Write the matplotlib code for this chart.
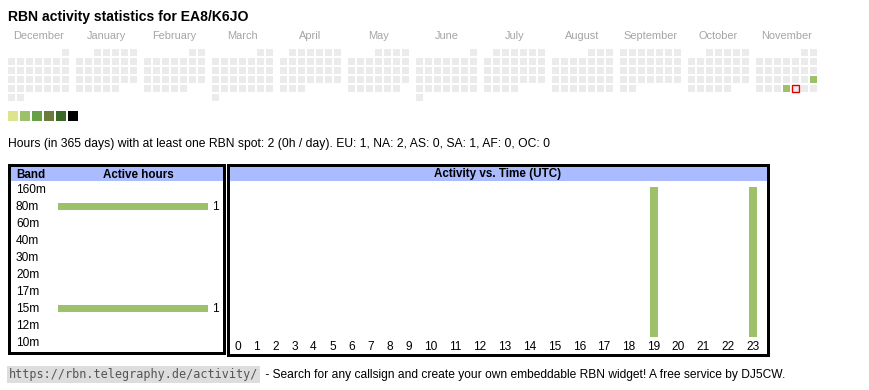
import datetime as dt
import calendar
import matplotlib
matplotlib.use("Agg")
import matplotlib.pyplot as plt
from matplotlib.patches import Rectangle
import matplotlib.transforms as mtransforms

# ---------------- data ----------------
title = "RBN activity statistics for EA8/K6JO"
month_names = ["December", "January", "February", "March", "April", "May",
               "June", "July", "August", "September", "October", "November"]
month_years = [2024, 2025, 2025, 2025, 2025, 2025, 2025, 2025, 2025, 2025, 2025, 2025]
month_numbers = [12, 1, 2, 3, 4, 5, 6, 7, 8, 9, 10, 11]
active_days = ["2025-11-23", "2025-11-27"]
active_day_hours = [1, 1]
today = "2025-11-28"
legend_colors = ["#dde48e", "#9dc16a", "#68a047", "#6a7b3b", "#3a6827", "#000000"]
stats_text = ("Hours (in 365 days) with at least one RBN spot: 2 (0h / day). "
              "EU: 1, NA: 2, AS: 0, SA: 1, AF: 0, OC: 0")
bands = ["160m", "80m", "60m", "40m", "30m", "20m", "17m", "15m", "12m", "10m"]
band_hours = [0, 1, 0, 0, 0, 0, 0, 1, 0, 0]
hour_labels = [str(h) for h in range(24)]
hour_activity = [0, 0, 0, 0, 0, 0, 0, 0, 0, 0, 0, 0,
                 0, 0, 0, 0, 0, 0, 0, 1, 0, 0, 0, 1]
footer_url = "https://rbn.telegraphy.de/activity/"
footer_text = " - Search for any callsign and create your own embeddable RBN widget! A free service by DJ5CW."

# ---------------- style ----------------
W, H = 870, 390
SANS = ["Liberation Sans", "DejaVu Sans"]
BAR = "#9dc16a"
HEAD = "#aabbff"
GREY = "#ebebeb"

fig = plt.figure(figsize=(W / 100, H / 100), dpi=100)
ax = fig.add_axes([0, 0, 1, 1])
ax.set_xlim(0, W)
ax.set_ylim(H, 0)
ax.axis("off")


def fig_box(x0, y0, x1, y1):
    return [x0 / W, 1 - y1 / H, (x1 - x0) / W, (y1 - y0) / H]


# title
ax.text(8, 21, title, fontsize=10.1, fontweight="bold", family=SANS, va="baseline")

# calendar heatmap
active = {dt.date.fromisoformat(d): v for d, v in zip(active_days, active_day_hours)}
today_d = dt.date.fromisoformat(today)
for i, (name, yr, mo) in enumerate(zip(month_names, month_years, month_numbers)):
    x0 = 8 + 68 * i
    ax.text(x0 + 30.5, 39, name, fontsize=7.9, family=SANS, color="#a5a5a5",
            ha="center", va="baseline")
    first = dt.date(yr, mo, 1)
    ndays = calendar.monthrange(yr, mo)[1]
    off = first.weekday()
    for d in range(1, ndays + 1):
        idx = off + d - 1
        col, row = idx % 7, idx // 7
        x, y = x0 + 9 * col, 49 + 9 * row
        day = dt.date(yr, mo, d)
        v = active.get(day, 0)
        c = legend_colors[min(v, len(legend_colors) - 1)] if v > 0 else GREY
        if day == today_d:
            ax.add_patch(Rectangle((x - 0.2, y - 0.2), 7.4, 7.4, facecolor=GREY,
                                   edgecolor="#e00000", lw=1.0))
        else:
            ax.add_patch(Rectangle((x, y), 7, 7, facecolor=c, edgecolor="none"))

for k, c in enumerate(legend_colors):
    ax.add_patch(Rectangle((8 + 12 * k, 111), 10, 10, facecolor=c, edgecolor="none"))

# stats line
ax.text(8, 146.5, stats_text, fontsize=8.73, family=SANS, va="baseline")

# table frames
ax.add_patch(Rectangle((11, 166), 212, 15, facecolor=HEAD, edgecolor="none"))
ax.add_patch(Rectangle((230, 166), 537, 15, facecolor=HEAD, edgecolor="none"))
ax.add_patch(Rectangle((9.5, 164.5), 215, 188, fill=False, edgecolor="black", lw=2.16))
ax.add_patch(Rectangle((228.5, 164.5), 540, 190, fill=False, edgecolor="black", lw=2.16))

ax.text(16.5, 177.5, "Band", fontsize=8.4, fontweight="bold", family=SANS, va="baseline")
ax.text(138, 177.5, "Active hours", fontsize=8.4, fontweight="bold", family=SANS,
        va="baseline", ha="center")
ax.text(498, 177.5, "Activity vs. Time (UTC)", fontsize=8.4, fontweight="bold",
        family=SANS, va="baseline", ha="center")

# band bars
row_h = 17
ax_b = fig.add_axes(fig_box(58, 181.2, 208, 181.2 + row_h * len(bands)))
ax_b.set_xlim(0, max(band_hours))
ax_b.set_ylim(len(bands) - 0.5, -0.5)
ax_b.axis("off")
ax_b.barh(range(len(bands)), band_hours, height=7 / row_h, color=BAR)
tb = mtransforms.blended_transform_factory(ax.transData, ax_b.transData)
for i, (b, v) in enumerate(zip(bands, band_hours)):
    ax.text(16, i, b, fontsize=8.6, family=SANS, va="center", transform=tb)
    if v > 0:
        ax_b.annotate(str(v), (v, i), xytext=(3, 0), textcoords="offset points",
                      fontsize=8.6, family=SANS, va="center", ha="left")

# hour bars (column widths follow label widths, like an auto-sized table)
col_w = [13.2 + 5.8 * len(s) for s in hour_labels]
centers = []
acc = 0.0
for w in col_w:
    centers.append(acc + w / 2)
    acc += w
ax_h = fig.add_axes(fig_box(228, 187, 228 + acc, 337))
ax_h.set_xlim(0, acc)
ax_h.set_ylim(0, max(hour_activity))
ax_h.axis("off")
ax_h.bar(centers, hour_activity, width=8, color=BAR)
th = mtransforms.blended_transform_factory(ax_h.transData, ax.transData)
for c, s in zip(centers, hour_labels):
    ax.text(c, 350, s, fontsize=8.6, family=SANS, ha="center", va="baseline", transform=th)

# footer
ax.text(9, 378, footer_url, fontsize=8.5, family=["DejaVu Sans Mono"], color="#555555",
        va="baseline", bbox=dict(facecolor="#dddddd", edgecolor="none", pad=1.2))
ax.text(262, 378, footer_text, fontsize=8.68, family=SANS, va="baseline")

fig.savefig("out.png", dpi=100)
